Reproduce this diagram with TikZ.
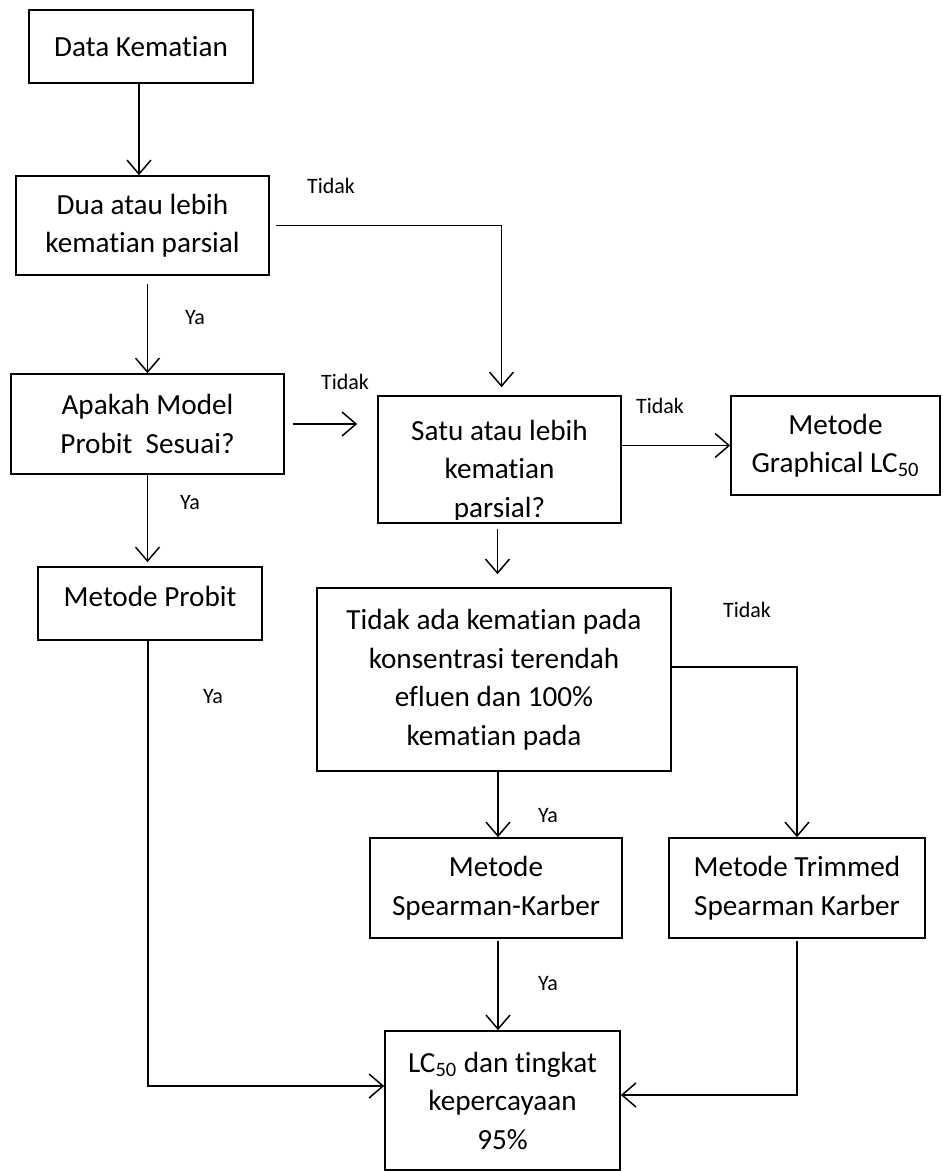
\documentclass[tikz,border=0pt]{standalone}
\usepackage{fontspec}
\setmainfont{Carlito}[RawFeature=-liga, RawFeature=-clig, RawFeature=-calt]
\usetikzlibrary{arrows.meta,calc}
\tikzset{
  kotak/.style={draw, line width=0.8pt, align=center, inner sep=0pt, font=\fontsize{14.6pt}{19.25pt}\selectfont},
  teks/.style={align=center, inner sep=0pt, font=\fontsize{14.6pt}{19.25pt}\selectfont},
  ket/.style={inner sep=0pt, font=\fontsize{11pt}{13pt}\selectfont},
  panah/.style={line width=0.75pt, -{Straight Barb[length=7pt,width=12pt,line width=0.75pt]}}
}
\begin{document}
\begin{tikzpicture}[x=0.5pt,y=-0.5pt]
\useasboundingbox (0,0) rectangle (942,1171);
% kotak-kotak
\node[kotak, minimum width=112pt, minimum height=36.5pt] (data) at (141,46.5) {Data Kematian};
\node[kotak, minimum width=126.5pt, minimum height=49.5pt] (dua) at (142.5,225.5) {Dua atau lebih\\kematian parsial};
\node[kotak, minimum width=136.5pt, minimum height=50pt] (apakah) at (147.5,424) {Apakah Model\\Probit\ \ Sesuai?};
\node[kotak, minimum width=121.5pt, minimum height=63.5pt] (satu) at (499.5,459.5) {};
\begin{scope}
\clip (378,396) rectangle (621,519);
\node[teks] (satuT) at (499.5,471) {Satu atau lebih\\kematian\\parsial?};
\end{scope}
\node[kotak, minimum width=104.5pt, minimum height=49.5pt] (graph) at (835.5,445.5) {Metode\\Graphical LC\textsubscript{50}};
\node[kotak, minimum width=112pt, minimum height=36.5pt] (probit) at (150,603.5) {};
\node[teks] (probitT) at (150,596) {Metode Probit};
\node[kotak, minimum width=177pt, minimum height=91.5pt] (tdk) at (494,679.5) {Tidak ada kematian pada\\konsentrasi terendah\\efluen dan 100\%\\kematian pada};
\node[kotak, minimum width=126pt, minimum height=50pt] (spear) at (496,888) {Metode\\Spearman-Karber};
\node[kotak, minimum width=128pt, minimum height=50pt] (trim) at (797,888) {Metode Trimmed\\Spearman Karber};
\node[kotak, minimum width=117.5pt, minimum height=69.5pt] (lc) at (502.5,1100.5) {LC\textsubscript{50} dan tingkat\\kepercayaan\\95\%};
% keterangan
\node[ket] (t1) at (331,186) {Tidak};
\node[ket] (t2) at (345,382) {Tidak};
\node[ket] (t3) at (660,406) {Tidak};
\node[ket] (t4) at (747,610) {Tidak};
\node[ket] (y1) at (195,318) {Ya};
\node[ket] (y2) at (190,503) {Ya};
\node[ket] (y3) at (213,697) {Ya};
\node[ket] (y4) at (548,816) {Ya};
\node[ket] (y5) at (548,984) {Ya};
% panah
\draw[panah] ([xshift=-1pt]data.south) -- ([xshift=-1pt]data.south |- dua.north);
\draw[panah] ([xshift=3pt]dua.east) -| ([xshift=1pt,yshift=4pt]satu.north);
\draw[panah] ($(apakah.north)+(0,-89)$) -- (apakah.north);
\draw[panah] (apakah.east) ++(8,0) -- ($(apakah.east -| satu.west)+(-20,0)$);
\draw[panah] (apakah.south) -- ($(apakah.south |- probit.north)+(0,-4)$);
\draw[panah] (satu.east |- graph.west) -- (graph.west);
\draw[panah] ($(satu.south)+(-2,5)$) -- ($(satu.south |- tdk.north)+(-2,-13)$);
\draw[panah] (tdk.east) ++(0,-12.5) -| (trim.north);
\draw[panah] ([xshift=1pt]spear.north |- tdk.south) -- ([xshift=1pt]spear.north);
\draw[panah] ([xshift=1pt,yshift=-1pt]spear.south) -- ([xshift=1pt]spear.south |- lc.north);
\draw[panah] ([yshift=-1pt]trim.south) |- ([yshift=2.75pt]lc.east);
\draw[panah] ([xshift=-1pt]probit.south) |- ([yshift=7.25pt]lc.west);
\end{tikzpicture}
\end{document}
